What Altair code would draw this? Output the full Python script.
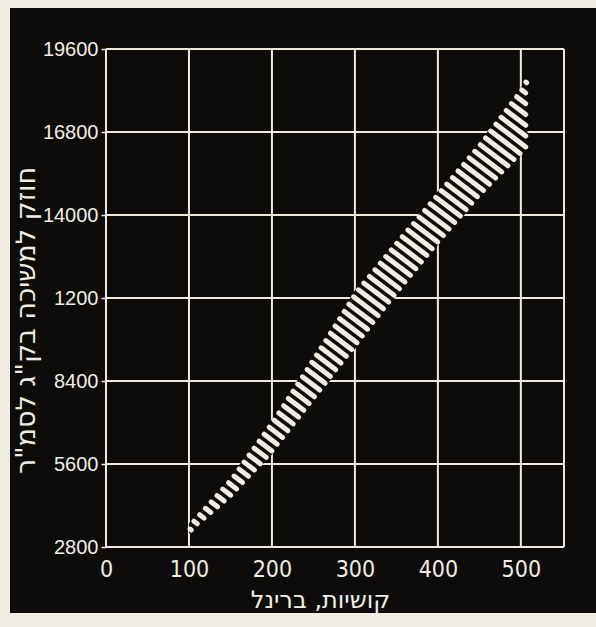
import numpy as np
import pandas as pd
import altair as alt

# Brinell hardness vs. tensile strength (kg/cm^2): the scatter band
hardness = [100, 150, 200, 250, 300, 350, 400, 450, 500, 508]
strength_high = [3600, 5150, 7100, 9250, 11450, 13150, 14800, 16450, 18300, 18620]
strength_low = [3250, 4430, 5920, 7700, 9480, 11270, 12980, 14580, 16000, 16230]

x_ticks = [0, 100, 200, 300, 400, 500]
y_ticks = [2800, 5600, 8400, 11200, 14000, 16800, 19600]
y_tick_labels = ["2800", "5600", "8400", "1200", "14000", "16800", "19600"]

X_MAX = 552
Y_MIN, Y_MAX = 2800, 19600
W, H = 458, 498

INK = "#0d0c0b"
PAPER = "#f1ede3"
LINE = "#eeeae0"

NARROW = "Liberation Sans Narrow, DejaVu Sans Condensed, Roboto Condensed, Liberation Sans, sans-serif"

# ---- hatch lines across the band -------------------------------------------
def to_px(x, y):
    return np.array([x * W / X_MAX, (y - Y_MIN) * H / (Y_MAX - Y_MIN)])

def to_data(p):
    return p[0] * X_MAX / W, p[1] * (Y_MAX - Y_MIN) / H + Y_MIN

poly = [to_px(x, y) for x, y in zip(hardness, strength_high)]
poly += [to_px(x, y) for x, y in zip(hardness[::-1], strength_low[::-1])]
poly = np.array(poly)

band_dir = poly[len(hardness) - 1] - poly[0]
band_dir = band_dir / np.linalg.norm(band_dir)
stripe_dir = np.array([band_dir[1], -band_dir[0]])
PERIOD = 8.6
TRIM = 2.2

proj = poly @ band_dir
rows = []
s = proj.min() + PERIOD / 2
while s < proj.max():
    pts = []
    for i in range(len(poly)):
        p, q = poly[i], poly[(i + 1) % len(poly)]
        dp, dq = p @ band_dir - s, q @ band_dir - s
        if dp * dq < 0:
            pts.append(p + (q - p) * dp / (dp - dq))
    if len(pts) >= 2:
        pts.sort(key=lambda v: v @ stripe_dir)
        a, b = pts[0], pts[-1]
        length = np.linalg.norm(b - a)
        t = min(TRIM, length * 0.3)
        a, b = a + stripe_dir * t, b - stripe_dir * t
        x1, y1 = to_data(a)
        x2, y2 = to_data(b)
        rows.append({"x": x1, "y": y1, "x2": x2, "y2": y2})
    s += PERIOD
stripes = pd.DataFrame(rows)

band = pd.DataFrame({"hardness": hardness, "high": strength_high, "low": strength_low})

# ---- scales / axes --------------------------------------------------------
xs = alt.Scale(domain=[0, X_MAX], nice=False, zero=False)
ys = alt.Scale(domain=[Y_MIN, Y_MAX], nice=False, zero=False)

label_expr = "''"
for v, lab in zip(y_ticks, y_tick_labels):
    label_expr = f"datum.value == {v} ? '{lab}' : ({label_expr})"

x_axis = alt.Axis(
    values=x_ticks, grid=False, domain=False, ticks=False, format="d",
    labelFont=NARROW, labelFontSize=23, labelColor=PAPER,
    labelPadding=11, labelFlush=False, zindex=1,
    title="קושיות, ברינל", titleFont="DejaVu Sans", titleFontSize=24,
    titleFontWeight="normal", titleColor=PAPER, titleX=214, titleY=53,
    titleBaseline="middle", titleAlign="center",
)
y_axis = alt.Axis(
    values=y_ticks, grid=False, domain=False, ticks=True, tickSize=5,
    tickColor=LINE, tickWidth=1.5, labelExpr=label_expr,
    labelFont="Liberation Sans", labelFontSize=20, labelColor=PAPER,
    labelPadding=3, labelFlush=False, zindex=1,
    title='חוזק למשיכה בק"ג לסמ"ר', titleFont="DejaVu Sans",
    titleFontSize=27, titleFontWeight="normal", titleColor=PAPER,
    titleX=-80, titleY=271, titleAngle=-90, titleBaseline="middle",
    titleAlign="center",
)

one = pd.DataFrame({"k": [0]})

panel = alt.Chart(one).mark_rect(color=INK).encode(
    x=alt.value(-96), x2=alt.value(490), y=alt.value(-41), y2=alt.value(564)
)

vgrid = alt.Chart(pd.DataFrame({"x": x_ticks + [X_MAX]})).mark_rule(
    color=LINE, strokeWidth=2
).encode(x=alt.X("x:Q", scale=xs, axis=x_axis))

hgrid = alt.Chart(pd.DataFrame({"y": y_ticks})).mark_rule(
    color=LINE, strokeWidth=2
).encode(y=alt.Y("y:Q", scale=ys, axis=y_axis))

band_fill = alt.Chart(band).mark_area(color=INK).encode(
    x=alt.X("hardness:Q", scale=xs, axis=x_axis),
    y=alt.Y("high:Q", scale=ys, axis=y_axis),
    y2="low:Q",
)

hatch = alt.Chart(stripes).mark_rule(
    color=PAPER, strokeWidth=5, strokeCap="round"
).encode(
    x=alt.X("x:Q", scale=xs, axis=x_axis),
    y=alt.Y("y:Q", scale=ys, axis=y_axis),
    x2="x2:Q",
    y2="y2:Q",
)

chart = (
    alt.layer(panel, vgrid, hgrid, band_fill, hatch)
    .properties(
        width=W, height=H,
        autosize=alt.AutoSizeParams(type="none"),
        padding={"left": 106, "top": 49, "right": 32, "bottom": 80},
        background=PAPER,
    )
    .configure_view(stroke=None)
)

chart.save("out.html", embed_options={"renderer": "svg", "actions": False})
